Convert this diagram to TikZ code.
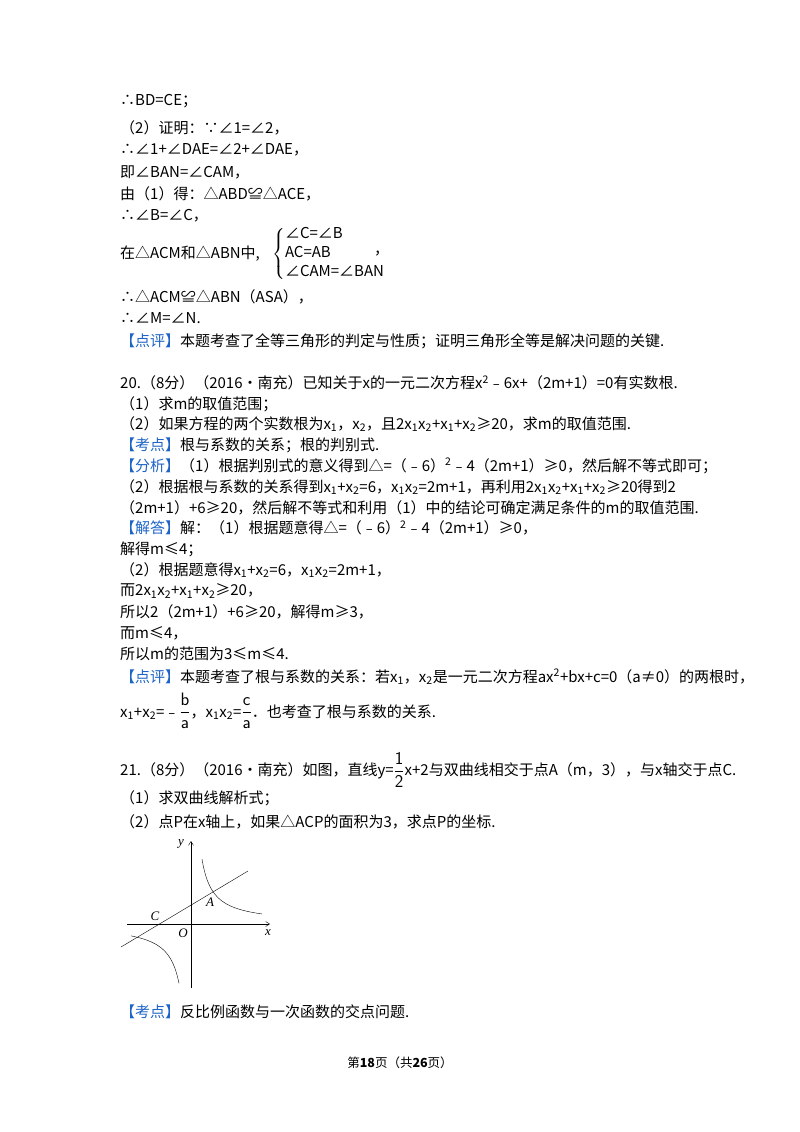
\documentclass[tikz,border=0pt]{standalone}
\usepackage{amsmath}
\usepackage{fontspec}
\usetikzlibrary{arrows.meta}
\setmainfont{Noto Sans CJK SC}
\newfontfamily\lat{Liberation Serif}
\definecolor{tagblue}{RGB}{30,100,200}
\tikzset{ln/.style={anchor=west,inner sep=0pt,font=\fontsize{15}{17}\selectfont},
 lbl/.style={inner sep=0pt,font=\fontsize{13}{15}\selectfont\lat\itshape}}
\newcommand{\tg}[1]{\textcolor{tagblue}{【#1】}}
\newcommand{\sub}[1]{\textsubscript{#1}}
\newcommand{\sps}[1]{\textsuperscript{#1}}
\newcommand{\bfr}[2]{{\fontsize{18}{20}\selectfont$\dfrac{\mathsf{#1}}{\mathsf{#2}}$}}
\begin{document}
\begin{tikzpicture}[x=1pt,y=1pt]
\useasboundingbox (0,0) rectangle (800,-1132);
\fill[white] (0,0) rectangle (800,-1132);
\node[ln] (l1) at (120,-101) {∴BD=CE；};
\node[ln] (l2) at (120,-128) {（2）证明：∵∠1=∠2，};
\node[ln] (l3) at (120,-150) {∴∠1+∠DAE=∠2+∠DAE，};
\node[ln] (l4) at (120,-172) {即∠BAN=∠CAM，};
\node[ln] (l5) at (120,-194) {由（1）得：△ABD≌△ACE，};
\node[ln] (l6) at (120,-216) {∴∠B=∠C，};
\node[ln] (l7) at (120,-254) {在△ACM和△ABN中,};
\node[ln] (br) at (272,-254) {$\left\{\begin{tabular}{@{}l@{}}∠C=∠B\\[2pt]AC=AB\\[2pt]∠CAM=∠BAN\end{tabular}\right.$};
\node[ln] (cm) at (374,-254) {，};
\node[ln] (l8) at (120,-297) {∴△ACM≌△ABN（ASA），};
\node[ln] (l9) at (120,-318) {∴∠M=∠N.};
\node[ln] (l10) at (120,-341) {\tg{点评}本题考查了全等三角形的判定与性质；证明三角形全等是解决问题的关键.};
\node[ln] (p1) at (120,-383) {20.（8分）（2016•南充）已知关于x的一元二次方程x\sps{2}﹣6x+（2m+1）=0有实数根.};
\node[ln] (p2) at (120,-404) {（1）求m的取值范围；};
\node[ln] (p3) at (120,-424) {（2）如果方程的两个实数根为x\sub{1}，x\sub{2}，且2x\sub{1}x\sub{2}+x\sub{1}+x\sub{2}≥20，求m的取值范围.};
\node[ln] (p4) at (120,-445) {\tg{考点}根与系数的关系；根的判别式.};
\node[ln] (p5) at (120,-466) {\tg{分析}（1）根据判别式的意义得到△=（﹣6）\sps{2}﹣4（2m+1）≥0，然后解不等式即可；};
\node[ln] (p6) at (120,-487) {（2）根据根与系数的关系得到x\sub{1}+x\sub{2}=6，x\sub{1}x\sub{2}=2m+1，再利用2x\sub{1}x\sub{2}+x\sub{1}+x\sub{2}≥20得到2};
\node[ln] (p7) at (120,-508) {（2m+1）+6≥20，然后解不等式和利用（1）中的结论可确定满足条件的m的取值范围.};
\node[ln] (p8) at (120,-528) {\tg{解答}解：（1）根据题意得△=（﹣6）\sps{2}﹣4（2m+1）≥0，};
\node[ln] (p9) at (120,-549) {解得m≤4；};
\node[ln] (p10) at (120,-570) {（2）根据题意得x\sub{1}+x\sub{2}=6，x\sub{1}x\sub{2}=2m+1，};
\node[ln] (p11) at (120,-591) {而2x\sub{1}x\sub{2}+x\sub{1}+x\sub{2}≥20，};
\node[ln] (p12) at (120,-612) {所以2（2m+1）+6≥20，解得m≥3，};
\node[ln] (p13) at (120,-633) {而m≤4，};
\node[ln] (p14) at (120,-654) {所以m的范围为3≤m≤4.};
\node[ln] (p15) at (120,-677) {\tg{点评}本题考查了根与系数的关系：若x\sub{1}，x\sub{2}是一元二次方程ax\sps{2}+bx+c=0（a≠0）的两根时，};
\node[ln] (p16) at (120,-711) {x\sub{1}+x\sub{2}=﹣\bfr{b}{a}，x\sub{1}x\sub{2}=\bfr{c}{a}．也考查了根与系数的关系.};
\node[ln] (q1) at (120,-770) {21.（8分）（2016•南充）如图，直线y=\bfr{1}{2}x+2与双曲线相交于点A（m，3），与x轴交于点C.};
\node[ln] (q2) at (120,-798) {（1）求双曲线解析式；};
\node[ln] (q3) at (120,-822) {（2）点P在x轴上，如果△ACP的面积为3，求点P的坐标.};
% graph
\coordinate (O) at (191,-924);
\coordinate (xa) at (127,-924); \coordinate (xb) at (270,-924);
\coordinate (ya) at (191,-988); \coordinate (yb) at (191,-841);
\draw[thin,-{Straight Barb[length=4pt,width=5pt]}] (xa) -- (xb);
\draw[thin,-{Straight Barb[length=4pt,width=5pt]}] (ya) -- (yb);
\coordinate (la) at (121,-947); \coordinate (lb) at (248,-871);
\draw[thin] (la) -- (lb);
\begin{scope}[shift={(O)}]
\draw[thin] plot[domain=11:71,samples=60,smooth] (\x,{713/\x});
\draw[thin] plot[domain=-60:-12,samples=60,smooth] (\x,{713/\x});
\end{scope}
\node[lbl] (ly) at (181,-844) {y};
\node[lbl] (lx) at (268,-933) {x};
\node[lbl] (lc) at (155,-916) {C};
\node[lbl] (lo) at (183,-933) {O};
\node[lbl] (lA) at (210,-902) {A};
\node[ln] (k1) at (120,-1012) {\tg{考点}反比例函数与一次函数的交点问题.};
\node[inner sep=0pt,font=\fontsize{12.5}{14}\selectfont] (ft) at (400,-1063) {第\textbf{18}页（共\textbf{26}页）};
\end{tikzpicture}
\end{document}
